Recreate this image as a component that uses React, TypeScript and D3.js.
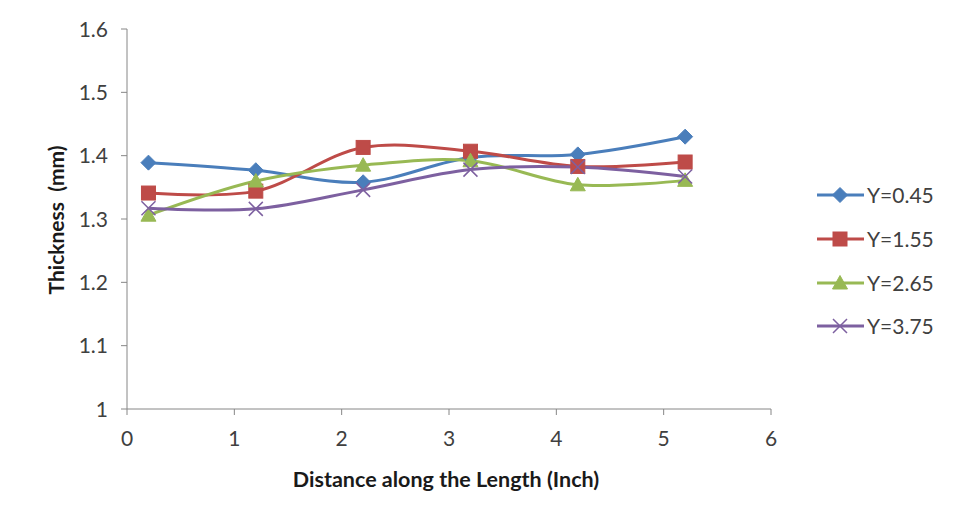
import React from "react";
import * as d3 from "d3";

const xValues = [0.2, 1.2, 2.2, 3.2, 4.2, 5.2];
const seriesNames = ["Y=0.45", "Y=1.55", "Y=2.65", "Y=3.75"];
const y045 = [1.389, 1.377, 1.358, 1.397, 1.402, 1.43];
const y155 = [1.341, 1.344, 1.413, 1.407, 1.383, 1.39];
const y265 = [1.306, 1.36, 1.385, 1.392, 1.354, 1.361];
const y375 = [1.317, 1.316, 1.346, 1.378, 1.382, 1.367];
const xTicks = [0, 1, 2, 3, 4, 5, 6];
const yTicks = [1, 1.1, 1.2, 1.3, 1.4, 1.5, 1.6];
const colors = ["#4A7EBB", "#BE4B48", "#98B954", "#7D60A0"];
const markers = ["diamond", "square", "triangle", "x"];

const W = 956, H = 525;
const FONT = "Lato, 'Open Sans', sans-serif";

function Marker({ type, x, y, color }: { type: string; x: number; y: number; color: string }) {
  if (type === "diamond") {
    const s = 7.5;
    return <path d={`M${x},${y - s}L${x + s},${y}L${x},${y + s}L${x - s},${y}Z`} fill={color} stroke={color} strokeWidth={1} />;
  }
  if (type === "square") {
    const s = 7;
    return <rect x={x - s} y={y - s} width={2 * s} height={2 * s} fill={color} stroke={color} strokeWidth={1} />;
  }
  if (type === "triangle") {
    const s = 7.5;
    return <path d={`M${x},${y - s}L${x + s},${y + s * 0.8}L${x - s},${y + s * 0.8}Z`} fill={color} stroke={color} strokeWidth={1} />;
  }
  const s = 7;
  return (
    <path d={`M${x - s},${y - s}L${x + s},${y + s}M${x - s},${y + s}L${x + s},${y - s}`} stroke={color} strokeWidth={1.5} fill="none" />
  );
}

export default function App() {
  const x = d3.scaleLinear().domain([0, 6]).range([127, 771]);
  const y = d3.scaleLinear().domain([1, 1.6]).range([409, 29]);
  const all = [y045, y155, y265, y375];
  const line = d3
    .line<number>()
    .x((_, i) => x(xValues[i]))
    .y((d) => y(d))
    .curve(d3.curveCatmullRom.alpha(0.5));
  const legendY = [195, 239, 283, 326];

  return (
    <svg width={W} height={H} style={{ position: "absolute", left: 0, top: 0, background: "#fff" }}>
      <rect width={W} height={H} fill="#fff" />
      {/* axes */}
      <line x1={x(0)} x2={x(0)} y1={y(1.6)} y2={y(1)} stroke="#868686" strokeWidth={1} />
      <line x1={x(0)} x2={x(6)} y1={y(1)} y2={y(1)} stroke="#868686" strokeWidth={1} />
      {yTicks.map((t) => (
        <g key={"y" + t}>
          <line x1={x(0) - 6} x2={x(0)} y1={y(t)} y2={y(t)} stroke="#868686" />
          <text x={x(0) - 19} y={y(t)} dy="0.36em" textAnchor="end" fontFamily={FONT} fontSize={21} fill="#404040">
            {d3.format("")(t)}
          </text>
        </g>
      ))}
      {xTicks.map((t) => (
        <g key={"x" + t}>
          <line x1={x(t)} x2={x(t)} y1={y(1)} y2={y(1) + 6} stroke="#868686" />
          <text x={x(t)} y={y(1) + 37} textAnchor="middle" fontFamily={FONT} fontSize={21} fill="#404040">
            {t}
          </text>
        </g>
      ))}
      <text x={446} y={487} textAnchor="middle" fontFamily={FONT} fontSize={21.5} fontWeight="bold" fill="#1a1a1a">
        Distance along the Length (Inch)
      </text>
      <text transform={`translate(64,220) rotate(-90)`} textAnchor="middle" fontFamily={FONT} fontSize={21} fontWeight="bold" fill="#1a1a1a" style={{ whiteSpace: "pre" }}>
        {"Thickness  (mm)"}
      </text>
      {/* series */}
      {all.map((s, k) => (
        <path key={"l" + k} d={line(s) || ""} fill="none" stroke={colors[k]} strokeWidth={3} />
      ))}
      {all.map((s, k) =>
        s.map((v, i) => <Marker key={k + "-" + i} type={markers[k]} x={x(xValues[i])} y={y(v)} color={colors[k]} />)
      )}
      {/* legend */}
      {seriesNames.map((n, k) => (
        <g key={"lg" + k}>
          <line x1={817} x2={864} y1={legendY[k]} y2={legendY[k]} stroke={colors[k]} strokeWidth={3} />
          <Marker type={markers[k]} x={840} y={legendY[k]} color={colors[k]} />
          <text x={867} y={legendY[k]} dy="0.36em" fontFamily={FONT} fontSize={21} fill="#404040">
            {n}
          </text>
        </g>
      ))}
    </svg>
  );
}
